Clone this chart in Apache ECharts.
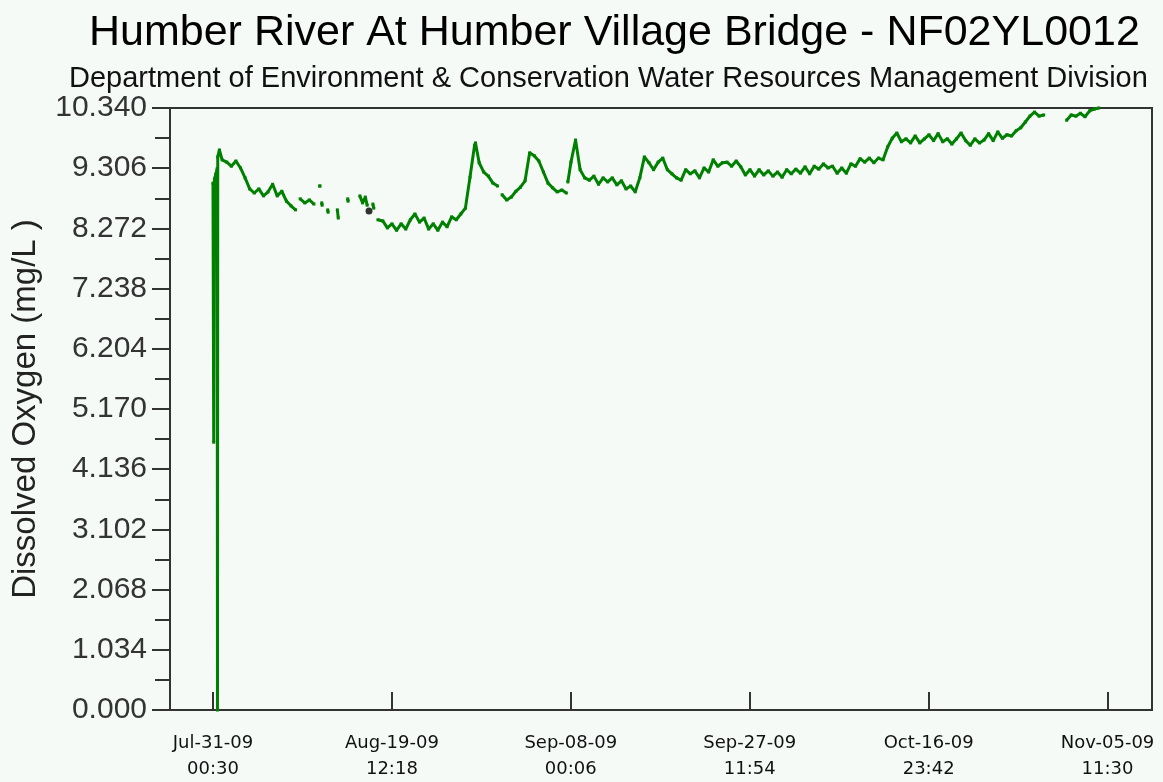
<!DOCTYPE html>
<html>
<head>
<meta charset="utf-8">
<title>Humber River At Humber Village Bridge - NF02YL0012</title>
<script src="https://cdn.jsdelivr.net/npm/echarts@6/dist/echarts.min.js"></script>
<style>
  html, body { margin: 0; padding: 0; background: #f6faf7; }
  #chart { width: 1163px; height: 782px; }
</style>
</head>
<body>
<div id="chart"></div>
<script>
// time of the first reading (first x tick) : Jul-31-09 00:30
var startTime = Date.UTC(2009, 6, 31, 0, 30);
var DAY = 86400000;
var tickStep = 19 * DAY + 11 * 3600000 + 48 * 60000;
var tickCount = 6;

// days since Jul-31-09 00:30, null value = no record
var dayOffset = [
  0.00, 0.08, 0.16, 0.30, 0.46, 0.49, 0.52, 0.70, 1.00, 1.5,
  2.0, 2.5, 3.0, 3.5, 4.0, 4.5, 5.0, 5.5, 6.0, 6.5,
  7.0, 7.5, 8.0, 8.5, 9.0, 9.3, 9.5, 10.0, 10.5, 11.0,
  11.3, 11.62, 11.66, 11.75, 11.85, 11.89, 12.2, 12.50, 12.54, 13.0,
  13.55, 13.65, 14.2, 14.68, 14.72, 15.5, 16.0, 16.3, 16.6, 16.8,
  16.9, 17.42, 17.52, 17.7, 17.97, 18.5, 19.0, 19.5, 20.0, 20.5,
  21.0, 21.5, 22.0, 22.5, 23.0, 23.5, 24.0, 24.5, 25.0, 25.5,
  26.0, 26.5, 27.0, 27.5, 28.0, 28.5, 28.6, 29.0, 29.5, 30.0,
  30.5, 31.0, 31.2, 31.5, 32.0, 32.5, 33.0, 33.5, 34.0, 34.5,
  35.0, 35.5, 36.0, 36.5, 37.0, 37.5, 38.0, 38.5, 38.6, 38.66,
  39.0, 39.5, 40.0, 40.5, 41.0, 41.5, 42.0, 42.5, 43.0, 43.5,
  44.0, 44.5, 45.0, 45.5, 46.0, 46.5, 47.0, 47.5, 48.0, 48.5,
  49.0, 49.5, 50.0, 50.5, 51.0, 51.5, 52.0, 52.5, 53.0, 53.5,
  54.0, 54.5, 55.0, 55.5, 56.0, 56.5, 57.0, 57.5, 58.0, 58.5,
  59.0, 59.5, 60.0, 60.5, 61.0, 61.5, 62.0, 62.5, 63.0, 63.5,
  64.0, 64.5, 65.0, 65.5, 66.0, 66.5, 67.0, 67.5, 68.0, 68.5,
  69.0, 69.5, 70.0, 70.5, 71.0, 71.5, 72.0, 72.5, 73.0, 73.5,
  74.0, 74.5, 75.0, 75.5, 76.0, 76.5, 77.0, 77.5, 78.0, 78.5,
  79.0, 79.5, 80.0, 80.5, 81.0, 81.5, 82.0, 82.5, 83.0, 83.5,
  84.0, 84.5, 85.0, 85.5, 86.0, 86.5, 87.0, 87.5, 88.0, 88.5,
  89.0, 89.5, 90.0, 90.5, 90.7, 93.0, 93.5, 94.0, 94.5, 95.0,
  95.5, 96.0, 96.5
];
var oxygen = [
  9.05, 4.60, 9.12, 9.20, 9.30, 0.00, 9.50, 9.62, 9.45, 9.41,
  9.34, 9.43, 9.31, 9.14, 8.95, 8.88, 8.95, 8.83, 8.90, 9.03,
  8.83, 8.91, 8.74, 8.66, 8.59, null, 8.78, 8.71, 8.76, 8.69,
  null, 9.00, 9.00, null, 8.71, 8.67, null, 8.59, 8.55, null,
  8.59, 8.45, null, 8.78, 8.74, null, 8.83, 8.71, 8.81, 8.67,
  null, 8.69, 8.62, null, 8.42, 8.40, 8.28, 8.35, 8.24, 8.35,
  8.26, 8.42, 8.52, 8.38, 8.45, 8.26, 8.35, 8.24, 8.38, 8.30,
  8.47, 8.42, 8.52, 8.62, 9.15, 9.70, 9.74, 9.40, 9.24, 9.17,
  9.05, 9.00, null, 8.85, 8.76, 8.81, 8.91, 8.98, 9.09, 9.57,
  9.52, 9.43, 9.24, 9.05, 8.97, 8.90, 8.93, 8.88, null, 9.07,
  9.41, 9.79, 9.28, 9.14, 9.10, 9.17, 9.03, 9.14, 9.07, 9.14,
  9.02, 9.09, 8.95, 9.00, 8.90, 9.14, 9.50, 9.40, 9.28, 9.41,
  9.48, 9.28, 9.21, 9.14, 9.10, 9.28, 9.21, 9.26, 9.14, 9.31,
  9.24, 9.45, 9.34, 9.40, 9.41, 9.34, 9.43, 9.33, 9.19, 9.28,
  9.17, 9.28, 9.19, 9.26, 9.17, 9.24, 9.15, 9.28, 9.21, 9.29,
  9.22, 9.33, 9.21, 9.34, 9.29, 9.38, 9.31, 9.34, 9.22, 9.31,
  9.22, 9.38, 9.34, 9.47, 9.41, 9.48, 9.40, 9.48, 9.45, 9.67,
  9.82, 9.91, 9.76, 9.81, 9.74, 9.86, 9.74, 9.81, 9.88, 9.78,
  9.90, 9.76, 9.81, 9.72, 9.81, 9.91, 9.78, 9.70, 9.81, 9.74,
  9.79, 9.90, 9.78, 9.93, 9.82, 9.88, 9.86, 9.95, 10.00, 10.10,
  10.20, 10.27, 10.20, 10.22, null, 10.13, 10.22, 10.20, 10.25, 10.19,
  10.29, 10.32, 10.34
];
// single flagged reading drawn in black
var flagDay = [17.0];
var flagValue = [8.57];

var yMax = 10.340;
var yStep = 1.034;

var months = ['Jan','Feb','Mar','Apr','May','Jun','Jul','Aug','Sep','Oct','Nov','Dec'];
function pad(n) { return (n < 10 ? '0' : '') + n; }
function fmtTime(v) {
  var d = new Date(v);
  return months[d.getUTCMonth()] + '-' + pad(d.getUTCDate()) + '-' + pad(d.getUTCFullYear() % 100) +
    '\n' + pad(d.getUTCHours()) + ':' + pad(d.getUTCMinutes());
}

var seriesData = dayOffset.map(function (d, i) {
  return [startTime + d * DAY, oxygen[i] == null ? '-' : oxygen[i]];
});
var flagData = flagDay.map(function (d, i) { return [startTime + d * DAY, flagValue[i]]; });
var tickValues = [];
for (var i = 0; i < tickCount; i++) tickValues.push(startTime + i * tickStep);

var myChart = echarts.init(document.getElementById('chart'));
var option = {
  backgroundColor: '#f6faf7',
  animation: false,
  textStyle: { fontFamily: 'Liberation Sans' },
  title: [{
    text: 'Humber River At Humber Village Bridge - NF02YL0012',
    left: 84,
    top: 7,
    textStyle: { fontSize: 43, fontWeight: 'normal', color: '#000', fontFamily: 'Liberation Sans' }
  }, {
    text: 'Department of Environment & Conservation Water Resources Management Division',
    left: 64,
    top: 59,
    textStyle: { fontSize: 29, fontWeight: 'normal', color: '#111', fontFamily: 'Liberation Sans' }
  }],
  grid: {
    left: 170, right: 11, top: 108, bottom: 72,
    show: true, borderColor: '#333', borderWidth: 2, backgroundColor: 'transparent'
  },
  xAxis: {
    type: 'value',
    min: startTime - 4.682 * DAY,
    max: startTime + 102.30 * DAY,
    splitLine: { show: false },
    axisLine: { lineStyle: { color: '#333', width: 2 } },
    axisTick: { inside: true, length: 18, customValues: tickValues, lineStyle: { color: '#333', width: 2 } },
    axisLabel: {
      customValues: tickValues,
      formatter: fmtTime,
      margin: 20,
      fontFamily: 'DejaVu Sans',
      fontSize: 18,
      lineHeight: 26,
      color: '#111'
    }
  },
  yAxis: {
    type: 'value',
    min: 0,
    max: yMax,
    interval: yStep,
    name: 'Dissolved Oxygen (mg/L )',
    nameLocation: 'middle',
    nameGap: 128,
    nameTextStyle: { fontSize: 33, color: '#222', fontFamily: 'Liberation Sans' },
    splitLine: { show: false },
    axisLine: { show: true, lineStyle: { color: '#333', width: 2 } },
    axisTick: { show: true, length: 18, lineStyle: { color: '#333', width: 2 } },
    minorTick: { show: true, splitNumber: 2, length: 15, lineStyle: { color: '#333', width: 2 } },
    axisLabel: {
      margin: 23,
      fontSize: 30,
      color: '#333',
      formatter: function (v) { return v.toFixed(3); }
    }
  },
  series: [
    {
      name: 'Dissolved Oxygen',
      type: 'line',
      data: seriesData,
      showSymbol: true,
      symbol: 'rect',
      symbolSize: 3,
      connectNulls: false,
      lineStyle: { color: '#008000', width: 3 },
      itemStyle: { color: '#008000' },
      clip: true
    },
    {
      name: 'Flagged',
      type: 'scatter',
      data: flagData,
      symbolSize: 7,
      itemStyle: { color: '#000' }
    }
  ]
};
myChart.setOption(option);
</script>
</body>
</html>
